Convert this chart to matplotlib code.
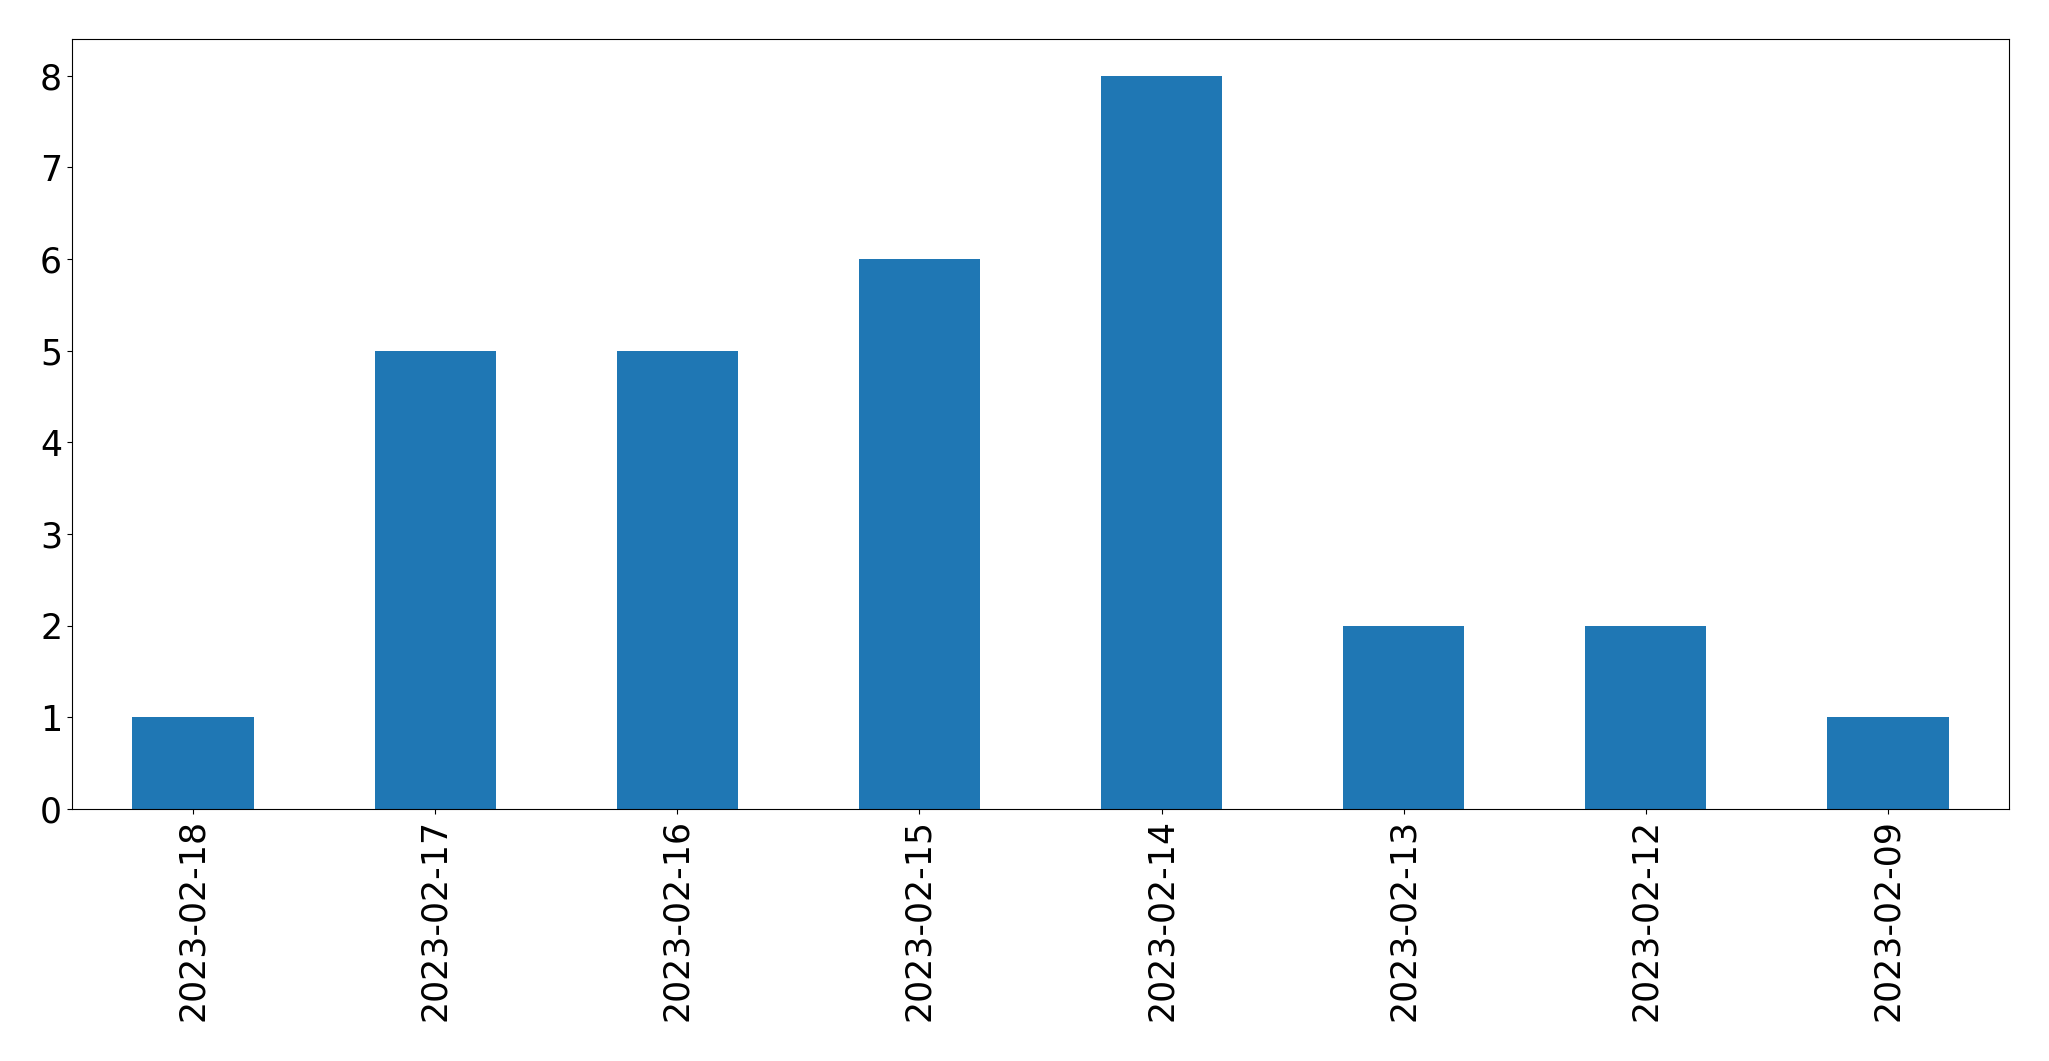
import matplotlib
matplotlib.use("Agg")
import pandas as pd
from matplotlib import pyplot as plt

dates = ["2023-02-18", "2023-02-17", "2023-02-16", "2023-02-15",
         "2023-02-14", "2023-02-13", "2023-02-12", "2023-02-09"]
counts = [1, 5, 5, 6, 8, 2, 2, 1]

s = pd.Series(counts, index=dates)

fig, ax = plt.subplots(figsize=(20.49, 10.61), dpi=100)
s.plot(kind="bar", ax=ax, color="#1f77b4", fontsize=25)
ax.set_ylim(0, 8.4)
plt.subplots_adjust(left=0.0351, right=0.9805, top=0.9632, bottom=0.2375)
fig.savefig("out.png", dpi=100)
